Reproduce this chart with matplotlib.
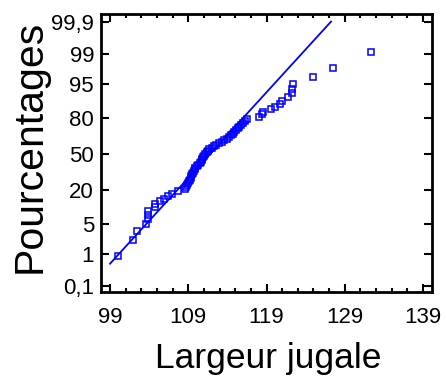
import numpy as np
import matplotlib.pyplot as plt
from statistics import NormalDist

plt.rcParams['font.family'] = ['Liberation Sans', 'DejaVu Sans']

# sorted sample values
largeur = [100.0, 101.9, 102.4, 103.6, 103.9, 103.9, 103.9, 104.7, 104.8, 105.4,
           105.9, 106.4, 106.9, 107.7, 108.6, 108.7, 108.8, 109.0, 109.1, 109.2,
           109.3, 109.4, 109.5, 109.6, 109.7, 109.8, 109.9, 110.1, 110.3, 110.5,
           110.6, 110.7, 110.8, 110.9, 111.0, 111.2, 111.4, 111.5, 111.7, 112.0,
           112.3, 112.6, 112.9, 113.3, 113.6, 113.9, 114.2, 114.5, 114.7, 114.9,
           115.1, 115.3, 115.5, 115.7, 116.0, 116.2, 116.5, 118.0, 118.4, 118.6,
           119.6, 120.1, 120.7, 121.0, 121.8, 122.2, 122.2, 122.4, 124.9, 127.5,
           132.3]

# fitted normal line
mu = 111.8
sigma = 5.0
line_start = 99

pct_ticks = [0.1, 1, 5, 20, 50, 80, 95, 99, 99.9]
pct_labels = ['0,1', '1', '5', '20', '50', '80', '95', '99', '99,9']
x_ticks = [99, 109, 119, 129, 139]

nd = NormalDist()
n = len(largeur)
# Blom plotting positions
z = [nd.inv_cdf((i - 0.375) / (n + 0.25)) for i in range(1, n + 1)]

fig = plt.figure(figsize=(4.46, 3.76), dpi=100)
ax = fig.add_axes([0.2265, 0.2234, 0.7421, 0.7386])

blue = '#0000ff'
z_top = nd.inv_cdf(0.999)
ax.plot([line_start, mu + sigma * z_top],
        [(line_start - mu) / sigma, z_top], color=blue, lw=1.3)
ax.plot(largeur, z, ls='none', marker='s', ms=4, mfc='none', mec=blue, mew=1.1)

ax.set_xlim(97.85, 140.15)
ax.set_ylim(-3.22, 3.26)
ax.set_xticks(x_ticks)
ax.set_xticks(np.arange(101, 139, 2), minor=True)
ax.set_yticks([nd.inv_cdf(p / 100) for p in pct_ticks])
ax.set_yticklabels(pct_labels)

ax.tick_params(which='both', direction='in', top=True, right=True,
               labelsize=16, width=1.5)
ax.tick_params(axis='x', pad=11)
ax.tick_params(axis='y', pad=5)
ax.tick_params(which='major', length=6)
ax.tick_params(which='minor', length=3)
for s in ax.spines.values():
    s.set_linewidth(2)

fig.text(0.601, 0.022, 'Largeur jugale', fontsize=25.5,
         ha='center', va='baseline')
fig.text(0.09, 0.612, 'Pourcentages', fontsize=29.5, rotation=90,
         rotation_mode='anchor', ha='center', va='baseline')

fig.savefig('out.png', dpi=100)
